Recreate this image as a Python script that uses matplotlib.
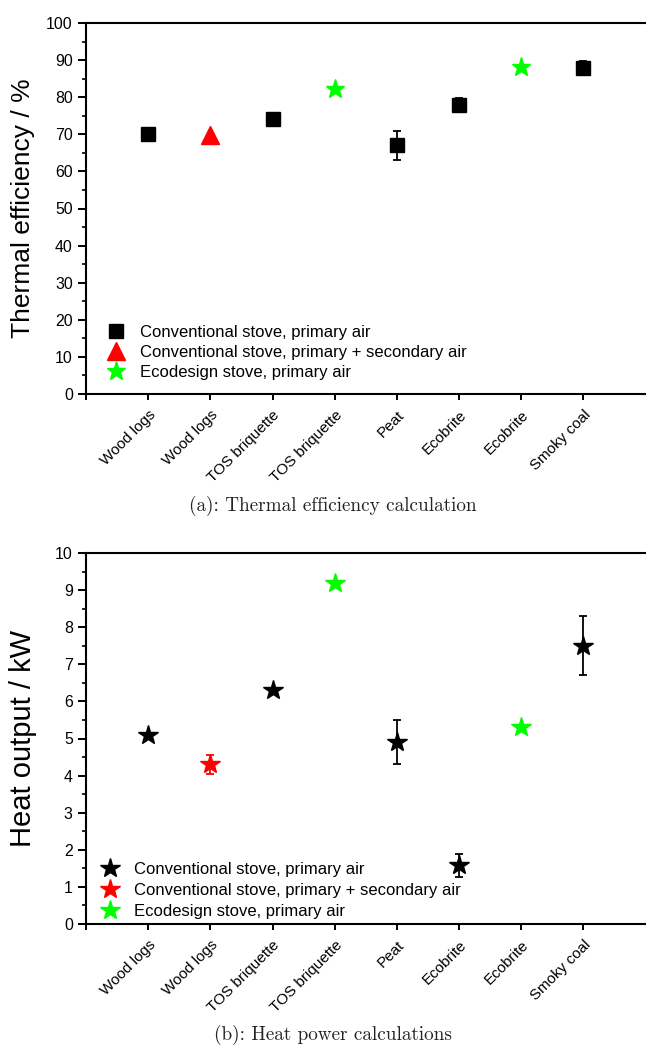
import numpy as np
import matplotlib
matplotlib.use("Agg")
import matplotlib.pyplot as plt
from matplotlib.ticker import MultipleLocator
from matplotlib.transforms import ScaledTranslation

# Fuel / stove combinations along the x axis
categories = ["Wood logs", "Wood logs", "TOS briquette", "TOS briquette",
              "Peat", "Ecobrite", "Ecobrite", "Smoky coal"]

# Series membership (1-based category positions)
conv_primary_pos = [1, 3, 5, 6, 8]
conv_secondary_pos = [2]
ecodesign_pos = [4, 7]

# (a) Thermal efficiency, %
eff_conv_primary = [70.0, 74.0, 67.0, 78.0, 88.0]
eff_conv_primary_err = [1.7, 1.7, 4.0, 1.7, 1.7]
eff_conv_secondary = [69.7]
eff_ecodesign = [82.2, 88.1]

# (b) Heat output, kW
heat_conv_primary = [5.1, 6.3, 4.9, 1.58, 7.5]
heat_conv_primary_err = [0.0, 0.0, 0.6, 0.3, 0.8]
heat_conv_secondary = [4.3]
heat_conv_secondary_err = [0.25]
heat_ecodesign = [9.2, 5.3]

legend_labels = ["Conventional stove, primary air",
                 "Conventional stove, primary + secondary air",
                 "Ecodesign stove, primary air"]

GREEN = "#00ff00"
RED = "#ff0000"
SANS = ["Liberation Sans", "DejaVu Sans"]
plt.rcParams["font.family"] = SANS

W, H = 646, 1045
fig = plt.figure(figsize=(W / 100, H / 100), dpi=100)


def px_axes(left, top, bottom, width):
    return fig.add_axes([left / W, 1 - bottom / H, width / W, (bottom - top) / H])


def style_axes(ax, ymax, major, minor):
    ax.set_xlim(0, 9.2)
    ax.set_ylim(0, ymax)
    ax.set_xticks(range(0, 9))
    ax.set_xticklabels([""] + categories, rotation=45, ha="right",
                       rotation_mode="anchor", fontsize=11)
    shift = ScaledTranslation(5 / 100, -7 / 100, fig.dpi_scale_trans)
    for lab in ax.get_xticklabels():
        lab.set_transform(lab.get_transform() + shift)
    ax.yaxis.set_major_locator(MultipleLocator(major))
    ax.yaxis.set_minor_locator(MultipleLocator(minor))
    ax.tick_params(axis="y", which="major", direction="out", length=6,
                   width=1.4, labelsize=11.4, pad=3.5)
    ax.tick_params(axis="y", which="minor", direction="out", length=3,
                   width=1.2)
    ax.tick_params(axis="x", which="major", direction="out", length=4,
                   width=1.4, pad=6)
    ax.spines["right"].set_visible(False)
    for s in ("left", "bottom", "top"):
        ax.spines[s].set_linewidth(1.5)


ebkw = dict(linestyle="none", capsize=3, elinewidth=1.3, capthick=1.3)

# ---- (a) Thermal efficiency ----
ax1 = px_axes(86, 23, 394, 572)
style_axes(ax1, 100, 10, 5)
h1 = ax1.errorbar(conv_primary_pos, eff_conv_primary, yerr=eff_conv_primary_err,
                  fmt="s", color="black", ms=10, ecolor="black", zorder=3, **ebkw)
h2 = ax1.errorbar(conv_secondary_pos, eff_conv_secondary, fmt="^", color=RED,
                  ms=13.5, zorder=3, **ebkw)
h3 = ax1.errorbar(ecodesign_pos, eff_ecodesign, fmt="*", color=GREEN, ms=14,
                  mec=GREEN, zorder=3, **ebkw)
ax1.set_ylabel("Thermal efficiency / %", fontsize=19, labelpad=8)
ax1.legend([h1[0], h2[0], h3[0]], legend_labels, loc="upper left",
           bbox_to_anchor=(0.012, 0.205), frameon=False, fontsize=12,
           handletextpad=0.4, labelspacing=0.32, borderaxespad=0.0,
           handlelength=2.0)
fig.text(0.515, 1 - 506 / H, "(a): Thermal efficiency calculation",
         family="cmr10", fontsize=13.8, color="#222222", ha="center",
         va="center")

# ---- (b) Heat output ----
ax2 = px_axes(86, 553, 924, 572)
style_axes(ax2, 10, 1, 0.5)
g1 = ax2.errorbar(conv_primary_pos, heat_conv_primary, yerr=heat_conv_primary_err,
                  fmt="*", color="black", ms=15, ecolor="black", zorder=3, **ebkw)
g2 = ax2.errorbar(conv_secondary_pos, heat_conv_secondary,
                  yerr=heat_conv_secondary_err, fmt="*", color=RED, ms=15,
                  ecolor=RED, zorder=3, **ebkw)
g3 = ax2.errorbar(ecodesign_pos, heat_ecodesign, fmt="*", color=GREEN, ms=15,
                  zorder=3, **ebkw)
ax2.set_ylabel("Heat output / kW", fontsize=21, labelpad=13)
ax2.legend([g1[0], g2[0], g3[0]], legend_labels, loc="upper left",
           bbox_to_anchor=(0.002, 0.185), frameon=False, fontsize=12,
           handletextpad=0.4, labelspacing=0.35, borderaxespad=0.0,
           handlelength=2.0)
fig.text(0.515, 1 - 1035 / H, "(b): Heat power calculations",
         family="cmr10", fontsize=13.8, color="#222222", ha="center",
         va="center")

fig.savefig("out.png", dpi=100)
